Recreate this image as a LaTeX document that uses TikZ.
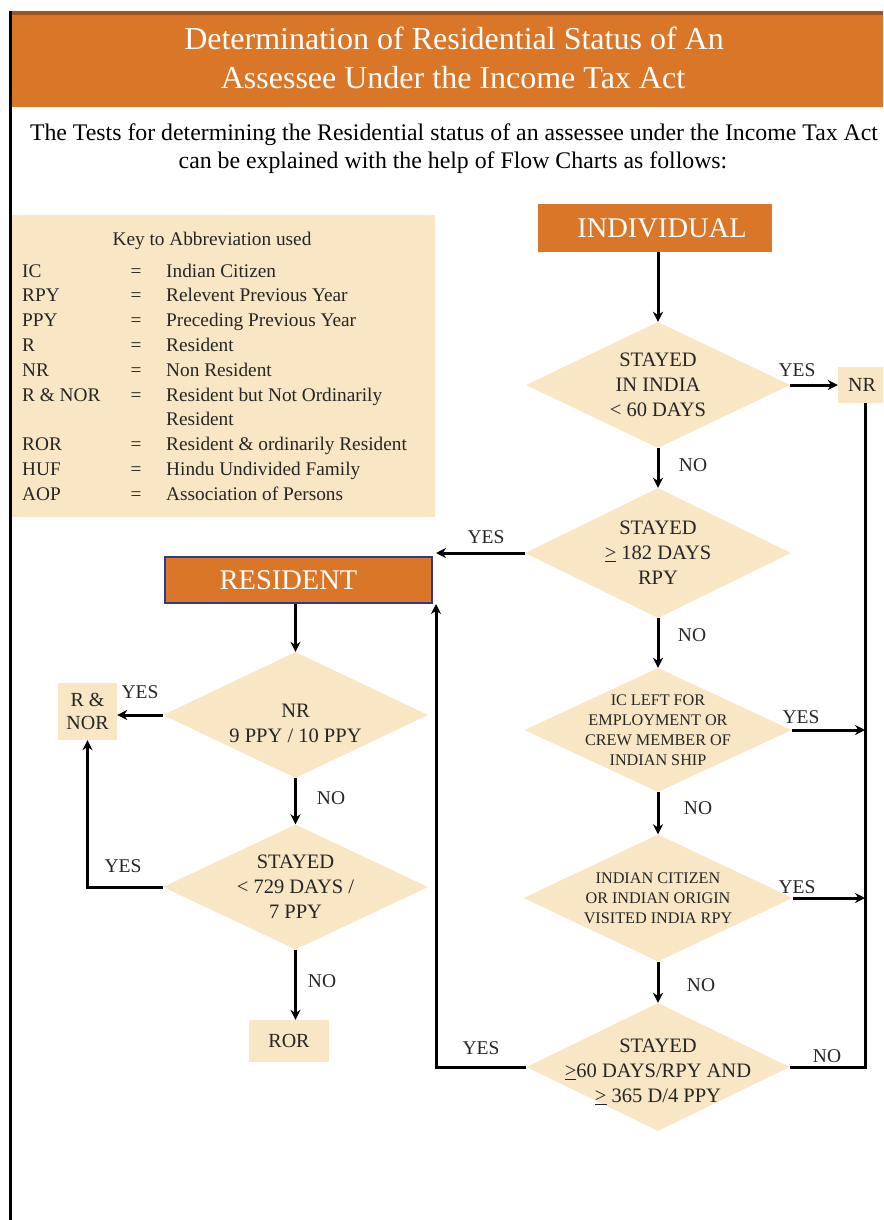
\documentclass[tikz,border=0pt]{standalone}
\usepackage{fontspec}
\setmainfont{Liberation Serif}
\usetikzlibrary{shapes.geometric,arrows.meta}
\definecolor{orng}{HTML}{DA7628}
\definecolor{brn}{HTML}{9C5520}
\definecolor{tanf}{HTML}{F8E6C4}
\definecolor{ink}{HTML}{262626}
\definecolor{navyb}{HTML}{2F3A8F}
\begin{document}
\begin{tikzpicture}[x=1pt,y=-1pt,
  dia/.style={diamond, fill=tanf, inner sep=0pt},
  dtxt/.style={align=center, text=ink, inner sep=0pt, font=\fontsize{20.5}{25}\selectfont},
  stxt/.style={align=center, text=ink, inner sep=0pt, font=\fontsize{16.2}{20}\selectfont},
  obox/.style={fill=orng, text=white, inner sep=0pt, font=\fontsize{28.5}{30}\selectfont},
  tbox/.style={fill=tanf, text=ink, align=center, inner sep=0pt, font=\fontsize{20}{23}\selectfont},
  lbl/.style={text=ink, inner sep=0pt, font=\fontsize{19.5}{21}\selectfont},
  keyt/.style={text=ink, inner sep=0pt, anchor=base west, font=\fontsize{19.3}{23}\selectfont},
  conn/.style={line width=3pt, black},
  arr/.style={conn, -{Stealth[length=10pt,width=10pt]}}
]
\useasboundingbox (0,0) rectangle (883,1220);
\clip (0,0) rectangle (883,1220);
% frame and heading
\fill[orng] (10,14) rectangle (883,107);
\draw[brn, line width=4.5pt] (9,13) -- (883,13);
\draw[black, line width=3pt] (10,11) -- (10,1220);
\node[text=white, inner sep=0pt, anchor=base, font=\fontsize{32}{34}\selectfont] (t1) at (454,50) {Determination of Residential Status of An};
\node[text=white, inner sep=0pt, anchor=base, font=\fontsize{32}{34}\selectfont] (t2) at (453,89) {Assessee Under the Income Tax Act};
\node[text=black, inner sep=0pt, anchor=base, font=\fontsize{23.8}{25}\selectfont] (s1) at (454,140) {The Tests for determining the Residential status of an assessee under the Income Tax Act};
\node[text=black, inner sep=0pt, anchor=base, font=\fontsize{23.8}{25}\selectfont] (s2) at (453,168) {can be explained with the help of Flow Charts as follows:};
% key
\node[fill=tanf, minimum width=423pt, minimum height=302pt, inner sep=0pt] (key) at (223.5,366) {};
\node[keyt, anchor=base] (kt) at (212,245) {Key to Abbreviation used};
\foreach \i/\a/\b/\c in {0/IC/=/Indian Citizen, 1/RPY/=/Relevent Previous Year, 2/PPY/=/Preceding Previous Year, 3/R/=/Resident, 4/NR/=/Non Resident, 5/R \& NOR/=/Resident but Not Ordinarily, 7/ROR/=/Resident \& ordinarily Resident, 8/HUF/=/Hindu Undivided Family, 9/AOP/=/Association of Persons}{
  \node[keyt] (ka\i) at (22,277+24.8*\i) {\a};
  \node[keyt, anchor=base] (kb\i) at (136,277+24.8*\i) {\b};
  \node[keyt] (kc\i) at (166,277+24.8*\i) {\c};
}
\node[keyt] (kc6) at (166,277+24.8*6) {Resident};
% orange boxes
\node[obox, minimum width=234pt, minimum height=48pt] (ind) at (655,228) {\kern14pt INDIVIDUAL};
\node[obox, draw=navyb, line width=2pt, minimum width=267pt, minimum height=46pt] (res) at (298.5,580) {RESIDENT\kern20pt};
% right column diamonds
\node[dia, minimum width=264pt, minimum height=126pt] (d1) at (658,385) {};
\node[dtxt] (d1t) at (d1.center) {STAYED\\IN INDIA\\< 60 DAYS};
\node[dia, minimum width=266pt, minimum height=130pt] (d2) at (658,553) {};
\node[dtxt] (d2t) at (d2.center) {STAYED\\\underline{>} 182 DAYS\\RPY};
\node[dia, minimum width=267pt, minimum height=124pt] (d3) at (658,730) {};
\node[stxt] (d3t) at (d3.center) {IC LEFT FOR\\EMPLOYMENT OR\\CREW MEMBER OF\\INDIAN SHIP};
\node[dia, minimum width=269pt, minimum height=127pt] (d4) at (658,898) {};
\node[stxt] (d4t) at (d4.center) {INDIAN CITIZEN\\OR INDIAN ORIGIN\\VISITED INDIA RPY};
\node[dia, minimum width=263pt, minimum height=128pt] (d5) at (658,1067) {};
\node[dtxt] (d5t) at ([yshift=-5pt]d5.center) {STAYED\\\underline{>}60 DAYS/RPY AND\\\underline{>} 365 D/4 PPY};
\node[tbox, minimum width=48pt, minimum height=36pt] (nr) at (862,385) {NR};
% left column
\node[dia, minimum width=265pt, minimum height=126pt] (l1) at (295.5,715) {};
\node[dtxt] (l1t) at ([yshift=-8pt]l1.center) {NR\\9 PPY / 10 PPY};
\node[dia, minimum width=265pt, minimum height=125pt] (l2) at (295.5,887) {};
\node[dtxt] (l2t) at (l2.center) {STAYED\\< 729 DAYS /\\7 PPY};
\node[tbox, minimum width=59pt, minimum height=57pt] (rn) at (87.5,711.5) {R \&\\NOR};
\node[tbox, minimum width=80pt, minimum height=42pt] (ror) at (289,1041) {ROR};
% helper coordinates
\coordinate (rb) at (865,1069);
\coordinate (lx) at (436,1063);
% connectors right
\draw[arr] (ind.south -| d1.north) -- (d1.north);
\draw[arr] (d1.east) -- (nr.west |- d1.east);
\draw[arr] (d1.south) -- (d2.north);
\draw[arr] (d2.west) -- (d2.west -| lx);
\draw[arr] (d2.south) -- (d3.north);
\draw[arr] (d3.east) -- (d3.east -| rb);
\draw[arr] (d3.south) -- (d4.north);
\draw[arr] (d4.east) -- (d4.east -| rb);
\draw[arr] (d4.south) -- (d5.north);
\draw[conn] (d5.east) -- (d5.east -| rb) -- (rb |- nr.south);
\draw[arr] (d5.west) -- (d5.west -| lx) -- (lx |- res.south);
% connectors left
\draw[arr] (res.south -| l1.north) -- (l1.north);
\draw[arr] (l1.west) -- (rn.east |- l1.west);
\draw[arr] (l1.south) -- (l2.north);
\draw[arr] (l2.west) -- (l2.west -| rn.south) -- (rn.south);
\draw[arr] (l2.south) -- (l2.south |- ror.north);
% labels
\node[lbl] (y1) at (797,370) {YES};
\node[lbl] (n1) at (693,465) {NO};
\node[lbl] (y2) at (486,537) {YES};
\node[lbl] (n2) at (692,635) {NO};
\node[lbl] (y3) at (801,717) {YES};
\node[lbl] (n3) at (698,808) {NO};
\node[lbl] (y4) at (797,887) {YES};
\node[lbl] (n4) at (701,985) {NO};
\node[lbl] (y5) at (481,1048) {YES};
\node[lbl] (n5) at (827,1056) {NO};
\node[lbl] (y6) at (140,692) {YES};
\node[lbl] (n6) at (331,798) {NO};
\node[lbl] (y7) at (123,866) {YES};
\node[lbl] (n7) at (322,981) {NO};
\end{tikzpicture}
\end{document}
